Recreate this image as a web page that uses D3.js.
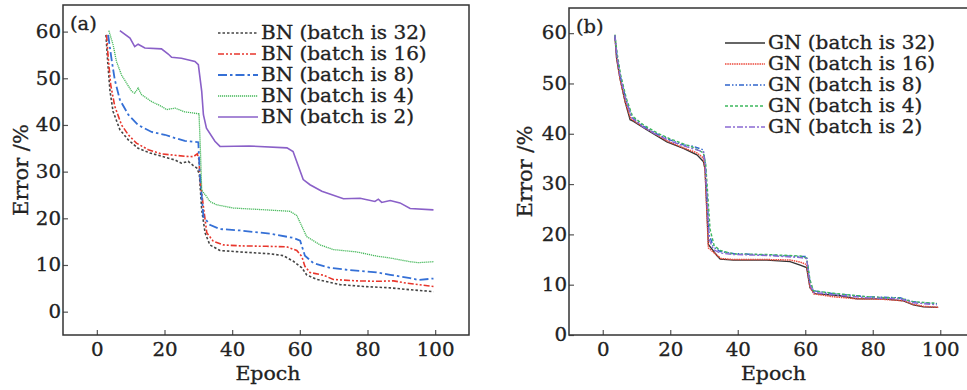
<!DOCTYPE html>
<html>
<head>
<meta charset="utf-8">
<script src="https://cdn.jsdelivr.net/npm/d3@7"></script>
<style>
  body { margin: 0; background: #fff; }
  svg text { font-family: "DejaVu Serif", serif; fill: #222; stroke: #222; stroke-width: 0.3; }
</style>
</head>
<body>
<svg id="svg"></svg>
<script>
// data: [epoch, error %]
const bn32 = [[2.7,59.3],[3.2,53.6],[3.9,47.2],[4.8,42.9],[6.8,39],[9.3,36.8],[12.2,35],[15.7,34],[19.1,33.3],[23.1,32.5],[25,31.8],[27,32.2],[28.5,31.3],[29.5,30.8],[30.3,29.5],[31,21.8],[32,16.9],[33.4,14.3],[36.4,13.1],[42.3,12.8],[51.2,12.4],[55.1,12],[58.1,10.8],[60.6,9.4],[62,7.9],[65,6.9],[71.9,5.8],[78.8,5.4],[86.7,5.1],[92.6,4.7],[99.5,4.3]]
const bn16 = [[2.9,59.3],[3.3,55],[4.1,48.6],[5.3,44],[7.3,40],[9.3,37.9],[11.7,36.1],[15.2,34.7],[19.1,33.8],[23.1,33.5],[26,33.3],[28.5,33.2],[29.7,33.8],[30.2,32.5],[30.5,28.3],[31.5,22.5],[32.5,16.9],[34.4,15.1],[37.4,14.3],[42.3,14.1],[50.2,14],[56.1,13.9],[59.1,13.1],[60.6,11.8],[61.5,9.7],[63,8.4],[67,7.8],[69.9,6.9],[76.8,6.6],[82.7,6.5],[87.7,6.6],[91.6,6.1],[99.5,5.4]]
const bn8 = [[3.35,59.3],[4.3,54.3],[5.3,49.7],[6.8,45.4],[9.3,42.2],[12.2,40],[16.2,38.5],[20.1,37.9],[23.1,37.2],[26,36.6],[30,36.3],[30.4,30],[31.5,20.4],[33.4,18.6],[36.4,17.7],[42.3,17.4],[51.2,16.7],[58.1,15.8],[60.1,15.2],[61.5,12],[64,10.4],[68.9,9.4],[74.9,8.9],[82.7,8.4],[86.7,7.9],[92.6,7.2],[95,6.8],[99.5,7.1]]
const bn4 = [[3.55,60.2],[4.8,57.2],[5.8,53.6],[7.3,50.7],[10.3,47.2],[11.2,46.8],[12.2,47.9],[13.2,46.5],[16.2,45],[19.1,44],[20.6,43.3],[23.1,43.6],[26,42.8],[30.2,42.4],[30.6,35],[31,26],[32.4,24.7],[33.4,23.6],[35.4,22.9],[40.3,22.2],[50.2,21.8],[57.1,21.5],[59.1,20.6],[60.6,18.3],[62,16.1],[66,14.3],[69.9,13.3],[76.8,12.8],[82.7,11.9],[86.7,11.5],[92.6,10.7],[95,10.5],[99.5,10.7]]
const bn2 = [[6.8,60.2],[9.8,58.6],[11.2,56.8],[12.2,57.3],[14.2,56.5],[19.1,56.3],[21.1,55.2],[22.1,54.5],[25,54.3],[29,53.6],[30,52.9],[31,47.2],[31.5,42.2],[32.4,39.3],[34.9,36.5],[36.4,35.4],[45,35.5],[56.2,35.1],[58,34.3],[61,28.3],[63,27.2],[66.5,25.8],[72.9,24.2],[77.8,24.3],[82.2,23.6],[83.2,24.1],[84.2,23.4],[86.7,23.8],[89.6,23.3],[92.6,22.1],[99.5,21.8]]

const gn32 = [[3.6,59.5],[4.1,55],[5.1,51],[6.6,46.4],[8.1,42.8],[9,42.5],[13,40.8],[19,38.4],[23.9,37.1],[27.9,35.8],[29.8,34.5],[30.3,33],[31.3,18],[33.8,15.8],[34.8,15.1],[38.7,14.9],[48.6,14.9],[55.5,14.6],[58.5,13.9],[60.4,13.4],[61.4,9.4],[62.9,8.2],[70.3,7.8],[75.3,7.2],[83.1,7.2],[89.1,6.8],[92,6],[95,5.6],[99.4,5.5]]
const gn16 = [[3.6,59.5],[4.1,55.2],[5.1,51],[6.6,46.5],[8.3,43],[13,41],[19,38.6],[23.9,37.2],[27.9,36.2],[29.8,35.2],[30.3,33],[31.3,17.3],[35,15.2],[38.7,15],[48.6,15],[55.5,14.9],[58.5,14.5],[60.4,14],[61.4,9.5],[62.5,8.2],[68.3,7.6],[75.3,7.2],[83.1,7.1],[89.1,6.8],[92,6.1],[95,5.7],[99.4,5.5]]
const gn8 = [[3.6,59.5],[4.2,55.5],[5.2,51.5],[6.8,47],[8.6,43.3],[12,41.5],[16,40],[19.9,38.8],[23.9,37.8],[26.8,37.5],[29.8,36.8],[30.4,34],[31.5,20],[32.8,17.5],[34.8,16.6],[38.7,16.2],[48.6,15.9],[58.5,15.6],[60.4,15.6],[61.4,10.5],[62.4,8.8],[68.3,8.2],[78.2,7.6],[88.1,7.4],[92,6.6],[99,6.2]]
const gn4 = [[3.6,59.7],[4.3,55.8],[5.3,51.7],[7,47],[8.8,43.5],[12,41.8],[16,40.2],[19.9,39],[23.9,38],[26.8,37.3],[29.8,36.2],[30.5,34],[31.8,21],[33,17.8],[34.8,16.8],[38.7,16.1],[48.6,16],[58.5,15.7],[60.4,15.3],[61.4,11],[62.4,8.8],[68.3,8.3],[78.2,7.6],[88.1,7.3],[92,6.6],[99,6.3]]
const gn2 = [[3.6,59.6],[4.2,55.5],[5.2,51.3],[6.8,46.8],[8.6,43.2],[12,41.3],[16,39.8],[19.9,38.6],[23.9,37.6],[26.8,37],[29.8,36.4],[30.4,33.5],[31.5,19],[32.8,17],[34.8,16.3],[38.7,16],[48.6,15.8],[58.5,15.4],[60.4,15.2],[61.4,10],[62.4,8.5],[68.3,8],[78.2,7.4],[88.1,7.2],[92,6.4],[99,6]]

const xTicks = [0, 20, 40, 60, 80, 100]
const yTicks = [0, 10, 20, 30, 40, 50, 60]
const bnNames = ['BN (batch is 32)', 'BN (batch is 16)', 'BN (batch is 8)', 'BN (batch is 4)', 'BN (batch is 2)']
const gnNames = ['GN (batch is 32)', 'GN (batch is 16)', 'GN (batch is 8)', 'GN (batch is 4)', 'GN (batch is 2)']

//svg
let width = 967
let height = 390
let svg = d3.select('#svg').attr('width', width).attr('height', height)

// widen glyphs a bit, the original font is a broad schoolbook face
let stretch = (sel, k) => sel.each(function () {
  let w = this.getComputedTextLength()
  d3.select(this).attr('textLength', w * k).attr('lengthAdjust', 'spacingAndGlyphs')
})

//----------------------------------------------------------------------------------------------------
let drawPanel = (p) => {
  let x = d3.scaleLinear().domain([-10, 110]).range(p.xRange)
  let y = d3.scaleLinear().domain(p.yDomain).range(p.yRange)
  let g = svg.append('g')

  // axes with inward ticks
  let xAxis = d3.axisBottom(x).tickValues(xTicks).tickSize(-5).tickPadding(8)
  let yAxis = d3.axisLeft(y).tickValues(yTicks).tickSize(-5).tickPadding(2)
  let xg = g.append('g').attr('transform', `translate(0,${p.yRange[0]})`).call(xAxis)
  let yg = g.append('g').attr('transform', `translate(${p.xRange[0]},0)`).call(yAxis)
  ;[xg, yg].forEach(a => {
    a.select('.domain').remove()
    a.attr('font-size', 18).attr('font-family', '"DejaVu Serif", serif')
    a.selectAll('line').attr('stroke', '#555').attr('stroke-width', 1.2)
    a.selectAll('text').attr('fill', '#222')
    stretch(a.selectAll('text'), 1.1)
  })

  // frame
  g.append('rect')
    .attr('x', p.xRange[0]).attr('y', p.yRange[1])
    .attr('width', p.xRange[1] - p.xRange[0]).attr('height', p.yRange[0] - p.yRange[1])
    .attr('fill', 'none').attr('stroke', '#333').attr('stroke-width', 1.5)

  // lines
  let line = d3.line().x(d => x(d[0])).y(d => y(d[1]))
  p.series.forEach(s => {
    g.append('path').datum(s.data)
      .attr('d', line)
      .attr('fill', 'none')
      .attr('stroke', s.color)
      .attr('stroke-width', s.w)
      .attr('stroke-dasharray', s.dash)
  })

  // legend
  p.series.forEach((s, i) => {
    let ly = p.legY + i * 21
    g.append('line')
      .attr('x1', p.legX).attr('x2', p.legX + 40)
      .attr('y1', ly).attr('y2', ly)
      .attr('stroke', s.color).attr('stroke-width', s.w).attr('stroke-dasharray', s.dash)
    let t = g.append('text')
      .attr('x', p.legX + 43).attr('y', ly + 6)
      .attr('font-size', 18)
      .text(s.name)
    stretch(t, 1.11)
  })

  // labels
  stretch(g.append('text').attr('x', p.xRange[0] + 7).attr('y', p.yRange[1] + 25)
    .attr('font-size', 18).text(p.tag), 1.08)
  stretch(g.append('text')
    .attr('x', (x(0) + x(100)) / 2 + 2).attr('y', 380)
    .attr('text-anchor', 'middle').attr('font-size', 19).text('Epoch'), 1.08)
  stretch(g.append('text')
    .attr('transform', `translate(${p.yLabX},${(p.yRange[0] + p.yRange[1]) / 2}) rotate(-90)`)
    .attr('text-anchor', 'middle').attr('font-size', 20).text('Error /%'), 1.05)
}

//----------------------------------------------------------------------------------------------------
drawPanel({
  tag: '(a)', xRange: [63, 469], yDomain: [-5, 65.7], yRange: [335, 5], yLabX: 28,
  legX: 218, legY: 33,
  series: [
    {name: bnNames[0], data: bn32, color: '#444', w: 1.6, dash: '2.5,2'},
    {name: bnNames[1], data: bn16, color: '#e8362c', w: 1.6, dash: '6,2,2,2,2,2'},
    {name: bnNames[2], data: bn8, color: '#3570d6', w: 1.8, dash: '9,3,2.5,3'},
    {name: bnNames[3], data: bn4, color: '#45b85a', w: 1.3, dash: '1.2,0.8'},
    {name: bnNames[4], data: bn2, color: '#8a60c8', w: 1.6, dash: null}
  ]
})

drawPanel({
  tag: '(b)', xRange: [569, 974], yDomain: [0, 65], yRange: [335, 8], yLabX: 532,
  legX: 725, legY: 43,
  series: [
    {name: gnNames[0], data: gn32, color: '#333', w: 1.3, dash: null},
    {name: gnNames[1], data: gn16, color: '#ec4a3c', w: 1.5, dash: '1.5,0.8'},
    {name: gnNames[2], data: gn8, color: '#2f64cc', w: 1.4, dash: '5,2,1.5,2,1.5,2'},
    {name: gnNames[3], data: gn4, color: '#3cb85c', w: 1.4, dash: '3,2'},
    {name: gnNames[4], data: gn2, color: '#8a6ad2', w: 1.4, dash: '6,2,2,2'}
  ]
})
</script>
</body>
</html>
